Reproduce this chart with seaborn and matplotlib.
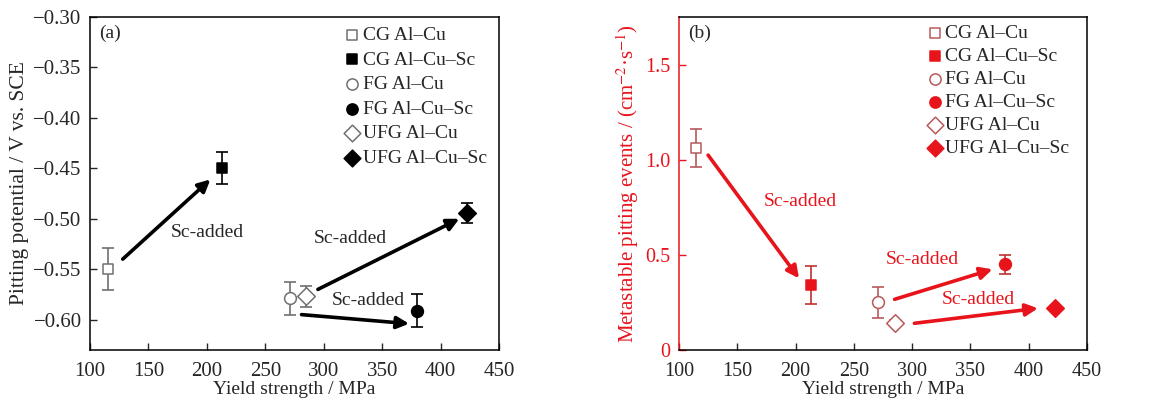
import matplotlib
matplotlib.use("Agg")
import matplotlib.pyplot as plt
import seaborn as sns
import pandas as pd

# ---- data ----
labels = ["CG Al–Cu", "CG Al–Cu–Sc", "FG Al–Cu", "FG Al–Cu–Sc", "UFG Al–Cu", "UFG Al–Cu–Sc"]
yield_strength = [115, 213, 271, 380, 285, 423]
pit_potential = [-0.550, -0.450, -0.579, -0.591, -0.577, -0.494]
pit_potential_err = [0.021, 0.016, 0.016, 0.016, 0.010, 0.010]
meta_events = [1.06, 0.34, 0.25, 0.45, 0.14, 0.22]
meta_events_err = [0.10, 0.10, 0.08, 0.05, 0.015, 0.0]
markers = ["s", "s", "o", "o", "D", "D"]
filled = [False, True, False, True, False, True]

# arrows: (x0, y0, x1, y1)
arrows_a = [(128, -0.540, 203, -0.461), (295, -0.570, 416, -0.500), (281, -0.595, 373, -0.604)]
texts_a = [(200, -0.5135), (323, -0.520), (338, -0.5815)]
arrows_b = [(125, 1.024, 203, 0.376), (285, 0.266, 369, 0.424), (302, 0.14, 408, 0.219)]
texts_b = [(204, 0.782), (309, 0.476), (357, 0.263)]

sns.set_theme(style="ticks")
plt.rcParams["font.family"] = ["Liberation Serif", "DejaVu Serif"]
plt.rcParams["mathtext.fontset"] = "stix"

fig = plt.figure(figsize=(11.63, 4.05), dpi=100)
axA = fig.add_axes([0.0774, 0.136, 0.3517, 0.822])
axB = fig.add_axes([0.5838, 0.136, 0.3508, 0.822])

df = pd.DataFrame({"label": labels, "x": yield_strength, "ya": pit_potential,
                   "ea": pit_potential_err, "yb": meta_events, "eb": meta_events_err,
                   "m": markers, "f": filled})

SIZES = {"s": 62, "o": 72, "D": 80}


def draw(ax, ycol, ecol, open_col, fill_col, open_err, fill_err):
    for _, r in df.iterrows():
        ec = fill_col if r.f else open_col
        fc = fill_col if r.f else "white"
        errc = fill_err if r.f else open_err
        if r[ecol] > 0:
            ax.errorbar(r.x, r[ycol], yerr=r[ecol], fmt="none", ecolor=errc,
                        elinewidth=1.2, capsize=4.5, capthick=1.2, zorder=2)
        sns.scatterplot(x=[r.x], y=[r[ycol]], marker=r.m, s=SIZES[r.m], ax=ax,
                        facecolor=fc, edgecolor=ec, linewidth=1.1,
                        label=r.label, zorder=3)


draw(axA, "ya", "ea", "#707070", "black", "#707070", "black")
draw(axB, "yb", "eb", "#b85a5a", "#e8141c", "#b85a5a", "#c03030")

for ax, tfs in ((axA, 15), (axB, 14.5)):
    ax.set_xlim(100, 450)
    ax.set_xticks(range(100, 451, 50))
    ax.tick_params(direction="in", length=5, width=1, labelsize=tfs, pad=6)
    ax.tick_params(axis="x", pad=9)
    ax.set_xlabel("Yield strength / MPa", fontsize=14, labelpad=0)
    for sp in ax.spines.values():
        sp.set_linewidth(1.1)
        sp.set_color("black")

axA.set_ylim(-0.63, -0.30)
axA.set_yticks([-0.30, -0.35, -0.40, -0.45, -0.50, -0.55, -0.60])
axA.set_yticklabels(["−0.30", "−0.35", "−0.40", "−0.45", "−0.50", "−0.55", "−0.60"])
axA.set_ylabel("Pitting potential / V vs. SCE", fontsize=15.5, labelpad=3)

axB.set_ylim(0, 1.75)
axB.set_yticks([0, 0.5, 1.0, 1.5])
axB.set_yticklabels(["0", "0.5", "1.0", "1.5"])
axB.set_ylabel(r"Metastable pitting events / (cm$^{-2}$·s$^{-1}$)", fontsize=15,
               color="#e8141c", labelpad=3)
axB.tick_params(axis="y", colors="#e8141c")
axB.spines["left"].set_color("#e8141c")

axA.text(0.022, 0.95, "(a)", transform=axA.transAxes, fontsize=14, va="center")
axB.text(0.022, 0.95, "(b)", transform=axB.transAxes, fontsize=14, va="center")

for (x0, y0, x1, y1) in arrows_a:
    axA.annotate("", xy=(x1, y1), xytext=(x0, y0),
                 arrowprops=dict(arrowstyle="-|>", lw=2.6, color="black", mutation_scale=18,
                                 shrinkA=0, shrinkB=0))
for (x, y) in texts_a:
    axA.text(x, y, "Sc-added", fontsize=14, ha="center", va="center")

for (x0, y0, x1, y1) in arrows_b:
    axB.annotate("", xy=(x1, y1), xytext=(x0, y0),
                 arrowprops=dict(arrowstyle="-|>", lw=2.6, color="#e8141c", mutation_scale=18,
                                 shrinkA=0, shrinkB=0))
for (x, y) in texts_b:
    axB.text(x, y, "Sc-added", fontsize=14, ha="center", va="center", color="#e8141c")

axA.legend(loc="upper left", bbox_to_anchor=(0.622, 0.972), frameon=False, fontsize=14,
           handletextpad=0.15, labelspacing=0.36, borderpad=0, handlelength=0.8,
           borderaxespad=0, markerscale=0.95)
axB.legend(loc="upper left", bbox_to_anchor=(0.608, 0.978), frameon=False, fontsize=14,
           handletextpad=0.15, labelspacing=0.28, borderpad=0, handlelength=0.8,
           borderaxespad=0, markerscale=0.95)

fig.savefig("out.png", dpi=100)
